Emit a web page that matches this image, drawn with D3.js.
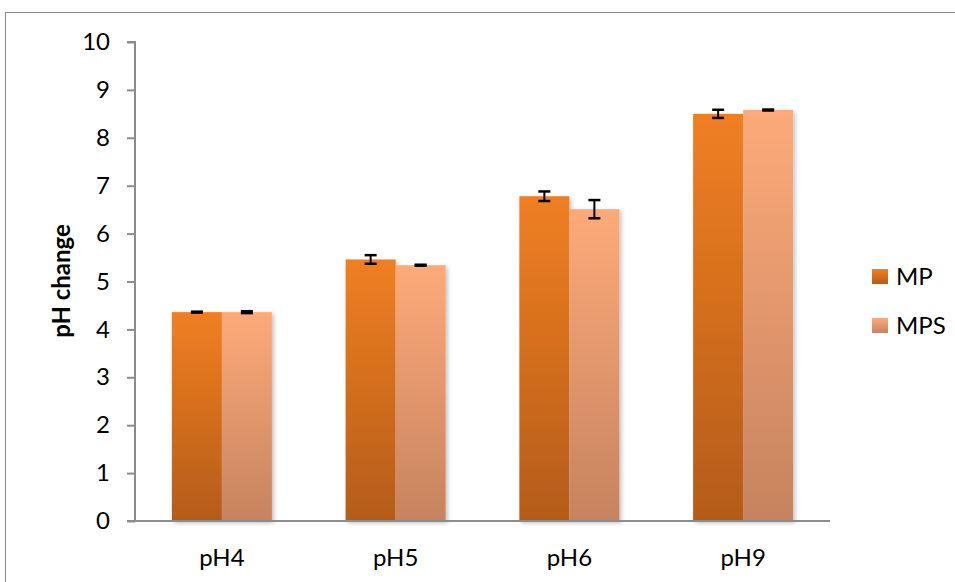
<!DOCTYPE html>
<html><head><meta charset="utf-8">
<script src="https://cdn.jsdelivr.net/npm/d3@7"></script>
<style>body{margin:0;background:#fff;} svg{display:block;}</style>
</head><body>
<svg id="chart" width="955" height="582"></svg>
<script>
const categories = ["pH4", "pH5", "pH6", "pH9"];
const seriesNames = ["MP", "MPS"];
const mpValues = [4.36, 5.46, 6.78, 8.50];
const mpErrors = [0.01, 0.09, 0.10, 0.085];
const mpsValues = [4.36, 5.34, 6.51, 8.58];
const mpsErrors = [0.02, 0.01, 0.19, 0.01];
const yTicks = [0,1,2,3,4,5,6,7,8,9,10];

const svg = d3.select("#chart");
const font = "Lato, 'Liberation Sans', Arial, sans-serif";
const m = {left:135, right:830, top:42, bottom:521};

svg.append("rect").attr("x",5.5).attr("y",12.5).attr("width",1000).attr("height",1000)
  .attr("fill","none").attr("stroke","#8c8c8c").attr("stroke-width",1);

const defs = svg.append("defs");
const grads = [["gMP","#F07F22","#B45C19"],["gMPS","#FDAA79","#C6835F"]];
grads.forEach(([id,c1,c2])=>{
  const g = defs.append("linearGradient").attr("id",id).attr("x1",0).attr("y1",0).attr("x2",0).attr("y2",1);
  g.append("stop").attr("offset","0%").attr("stop-color",c1);
  g.append("stop").attr("offset","100%").attr("stop-color",c2);
});
const f = defs.append("filter").attr("id","sh").attr("x","-20%").attr("y","-10%").attr("width","150%").attr("height","130%");
f.append("feDropShadow").attr("dx",2).attr("dy",2).attr("stdDeviation",2).attr("flood-color","#000").attr("flood-opacity",0.25);

const x0 = d3.scaleBand().domain(categories).range([m.left, m.right]).paddingInner(0).paddingOuter(0);
const groupW = 100;
const x1 = d3.scaleBand().domain(seriesNames).range([0, groupW]);
const y = d3.scaleLinear().domain([0,10]).range([m.bottom, m.top]);

const data = categories.map((c,i)=>({cat:c, vals:[
  {s:"MP", v:mpValues[i], e:mpErrors[i], g:"gMP"},
  {s:"MPS", v:mpsValues[i], e:mpsErrors[i], g:"gMPS"}]}));

const groups = svg.append("g").selectAll("g").data(data).join("g")
  .attr("transform", d=>`translate(${x0(d.cat)+x0.bandwidth()/2-groupW/2},0)`);

groups.append("g").attr("filter","url(#sh)").selectAll("rect").data(d=>d.vals).join("rect")
  .attr("x", d=>x1(d.s)).attr("width", x1.bandwidth())
  .attr("y", d=>y(d.v)).attr("height", d=>y(0)-y(d.v))
  .attr("fill", d=>`url(#${d.g})`);

// axes
const yAxis = d3.axisLeft(y).tickValues(yTicks).tickSize(8).tickPadding(17).tickFormat(d3.format("d"));
const gy = svg.append("g").attr("transform",`translate(${m.left},0)`).call(yAxis);
gy.select(".domain").attr("stroke","#8c8c8c").attr("stroke-width",2).attr("d",`M-8,${y(10)}H0V${y(0)}`);
gy.selectAll(".tick line").attr("stroke","#8c8c8c").attr("stroke-width",2);
gy.selectAll("text").attr("font-family",font).attr("font-size",24).attr("fill","#000");

const xAxis = d3.axisBottom(x0).tickSize(0).tickPadding(28);
const gx = svg.append("g").attr("transform",`translate(0,${m.bottom})`).call(xAxis);
gx.select(".domain").attr("stroke","#8c8c8c").attr("stroke-width",2).attr("d",`M${m.left-8},0H${m.right}`);
gx.selectAll("text").attr("font-family",font).attr("font-size",24).attr("fill","#000");

// error bars
const eb = groups.append("g").selectAll("g").data(d=>d.vals).join("g");
eb.append("line").attr("x1",d=>x1(d.s)+x1.bandwidth()/2).attr("x2",d=>x1(d.s)+x1.bandwidth()/2)
  .attr("y1",d=>y(d.v+d.e)).attr("y2",d=>y(d.v-d.e)).attr("stroke","#000").attr("stroke-width",2);
[1,-1].forEach(sgn=>{
  eb.append("line").attr("x1",d=>x1(d.s)+x1.bandwidth()/2-6).attr("x2",d=>x1(d.s)+x1.bandwidth()/2+6)
    .attr("y1",d=>y(d.v+sgn*d.e)).attr("y2",d=>y(d.v+sgn*d.e)).attr("stroke","#000").attr("stroke-width",2.5);
});

// y label
svg.append("text").attr("transform",`translate(70,281) rotate(-90)`)
  .attr("text-anchor","middle").attr("font-family",font).attr("font-weight","bold").attr("font-size",24)
  .attr("fill","#000").text("pH change");

// legend
const lg = svg.append("g").attr("transform","translate(872,269)");
seriesNames.forEach((s,i)=>{
  const g = lg.append("g").attr("transform",`translate(0,${i*49})`);
  g.append("rect").attr("width",16).attr("height",15).attr("fill",`url(#${grads[i][0]})`);
  g.append("text").attr("x",24).attr("y",16).attr("font-family",font).attr("font-size",24).attr("fill","#000").text(s);
});
</script>
</body></html>
